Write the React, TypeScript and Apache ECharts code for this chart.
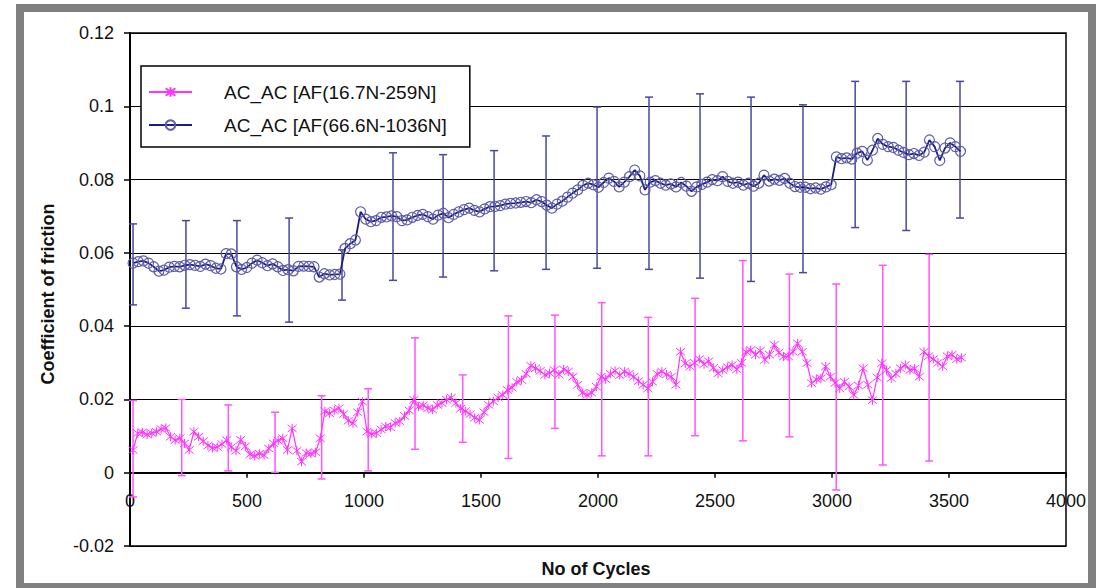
import React, { useEffect, useRef } from 'react';
import * as echarts from 'echarts';

const PINK_NAME = 'AC_AC [AF(16.7N-259N]';
const BLUE_NAME = 'AC_AC [AF(66.6N-1036N]';
const X_TITLE = 'No of Cycles';
const Y_TITLE = 'Coefficient of friction';

// sampling grid of the two runs (cycles)
const PINK_START = 13;
const PINK_STEP = 20;
const BLUE_START = 13;
const BLUE_STEP = 22.1;

// coefficient of friction, 16.7N-259N run
const pinkCof = [
  0.0062, 0.0108, 0.0110, 0.0104, 0.0108, 0.0112, 0.0119, 0.0122, 0.0098, 0.0089,
  0.0094, 0.0080, 0.0062, 0.0112, 0.0098, 0.0086, 0.0074, 0.0068, 0.0070, 0.0078,
  0.0089, 0.0070, 0.0060, 0.0090, 0.0072, 0.0050, 0.0046, 0.0052, 0.0048, 0.0066,
  0.0080, 0.0088, 0.0094, 0.0062, 0.0121, 0.0060, 0.0030, 0.0054, 0.0052, 0.0056,
  0.0094, 0.0168, 0.0162, 0.0170, 0.0176, 0.0160, 0.0142, 0.0135, 0.0165, 0.0194,
  0.0112, 0.0106, 0.0108, 0.0118, 0.0126, 0.0124, 0.0136, 0.0140, 0.0155, 0.0170,
  0.0199, 0.0180, 0.0184, 0.0176, 0.0172, 0.0185, 0.0190, 0.0199, 0.0205, 0.0190,
  0.0175, 0.0168, 0.0160, 0.0150, 0.0144, 0.0165, 0.0185, 0.0195, 0.0205, 0.0212,
  0.0226, 0.0232, 0.0248, 0.0253, 0.0270, 0.0292, 0.0285, 0.0278, 0.0267, 0.0272,
  0.0280, 0.0268, 0.0282, 0.0276, 0.0262, 0.0240, 0.0218, 0.0212, 0.0218, 0.0235,
  0.0262, 0.0255, 0.0270, 0.0278, 0.0266, 0.0276, 0.0270, 0.0262, 0.0250, 0.0240,
  0.0230, 0.0248, 0.0270, 0.0276, 0.0268, 0.0262, 0.0240, 0.0330, 0.0298, 0.0290,
  0.0300, 0.0310, 0.0296, 0.0304, 0.0286, 0.0271, 0.0280, 0.0288, 0.0294, 0.0282,
  0.0300, 0.0330, 0.0335, 0.0322, 0.0333, 0.0308, 0.0322, 0.0349, 0.0328, 0.0317,
  0.0318, 0.0330, 0.0353, 0.0330, 0.0299, 0.0244, 0.0255, 0.0258, 0.0290, 0.0262,
  0.0245, 0.0230, 0.0248, 0.0235, 0.0212, 0.0238, 0.0285, 0.0240, 0.0198, 0.0260,
  0.0299, 0.0280, 0.0258, 0.0270, 0.0285, 0.0294, 0.0280, 0.0284, 0.0262, 0.0330,
  0.0318, 0.0310, 0.0300, 0.0290, 0.0318, 0.0322, 0.0310, 0.0314,
];

// coefficient of friction, 66.6N-1036N run
const blueCof = [
  0.0572, 0.0576, 0.0578, 0.0572, 0.0562, 0.0550, 0.0553, 0.0561, 0.0563, 0.0562,
  0.0566, 0.0568, 0.0566, 0.0563, 0.0569, 0.0565, 0.0558, 0.0556, 0.0598, 0.0597,
  0.0562, 0.0555, 0.0560, 0.0572, 0.0580, 0.0573, 0.0565, 0.0570, 0.0562, 0.0552,
  0.0554, 0.0551, 0.0563, 0.0564, 0.0563, 0.0562, 0.0534, 0.0543, 0.0540, 0.0541,
  0.0542, 0.0612, 0.0625, 0.0635, 0.0712, 0.0692, 0.0685, 0.0688, 0.0697, 0.0698,
  0.0701, 0.0699, 0.0688, 0.0690, 0.0697, 0.0702, 0.0705, 0.0699, 0.0692, 0.0703,
  0.0708, 0.0696, 0.0705, 0.0712, 0.0718, 0.0722, 0.0716, 0.0712, 0.0720, 0.0726,
  0.0727, 0.0729, 0.0733, 0.0735, 0.0736, 0.0738, 0.0740, 0.0737, 0.0745, 0.0740,
  0.0730, 0.0722, 0.0733, 0.0741, 0.0752, 0.0763, 0.0772, 0.0784, 0.0790, 0.0786,
  0.0779, 0.0792, 0.0804, 0.0795, 0.0780, 0.0793, 0.0808, 0.0826, 0.0810, 0.0772,
  0.0793, 0.0797, 0.0790, 0.0785, 0.0788, 0.0780, 0.0792, 0.0782, 0.0768, 0.0780,
  0.0787, 0.0793, 0.0800, 0.0797, 0.0808, 0.0795, 0.0790, 0.0793, 0.0785, 0.0790,
  0.0782, 0.0790, 0.0812, 0.0796, 0.0801, 0.0798, 0.0803, 0.0790, 0.0781, 0.0779,
  0.0779, 0.0775, 0.0777, 0.0774, 0.0780, 0.0786, 0.0862, 0.0857, 0.0859, 0.0856,
  0.0872, 0.0877, 0.0853, 0.0880, 0.0912, 0.0896, 0.0890, 0.0888, 0.0880, 0.0874,
  0.0868, 0.0871, 0.0866, 0.0875, 0.0908, 0.0890, 0.0852, 0.0886, 0.0900, 0.0890,
  0.0877,
];

// error bars (cycle, low, high)
const pinkBarCycles = [13, 221, 420, 620, 819, 1018, 1218, 1422, 1617, 1816, 2016, 2215, 2415, 2619, 2818, 3018, 3217, 3415];
const pinkBarLow = [-0.0066, -0.0008, 0.0005, 0.0001, -0.0017, 0.0005, 0.0064, 0.0083, 0.0039, 0.0121, 0.0046, 0.0046, 0.0101, 0.0087, 0.0098, -0.0047, 0.0021, 0.0032];
const pinkBarHigh = [0.0197, 0.0200, 0.0185, 0.0165, 0.0210, 0.0229, 0.0368, 0.0267, 0.0428, 0.0430, 0.0464, 0.0424, 0.0476, 0.0579, 0.0542, 0.0515, 0.0566, 0.0596];

const blueBarCycles = [13, 239, 457, 680, 906, 1124, 1338, 1556, 1778, 1996, 2218, 2436, 2654, 2876, 3099, 3317, 3547];
const blueBarLow = [0.0458, 0.0449, 0.0428, 0.0411, 0.0471, 0.0525, 0.0534, 0.0551, 0.0555, 0.0558, 0.0555, 0.0531, 0.0522, 0.0546, 0.0669, 0.0661, 0.0695];
const blueBarHigh = [0.0679, 0.0688, 0.0688, 0.0695, 0.0608, 0.0873, 0.0868, 0.0879, 0.0919, 0.0998, 0.1025, 0.1034, 0.1025, 0.1004, 0.1068, 0.1068, 0.1068];

const X_MIN = 0;
const X_MAX = 4000;
const X_INTERVAL = 500;
const Y_MIN = -0.02;
const Y_MAX = 0.12;
const Y_INTERVAL = 0.02;

const FONT = '"Liberation Sans", Arial, sans-serif';
const PINK = '#ff33ff';
const PINK_BAR = '#ff55ff';
const BLUE = '#1c1c84';
const BLUE_MARK = '#5c5ca8';
const BLUE_BAR = '#4848a0';

const GRID_TOP = 33;
const GRID_BOTTOM = 42;
const CHART_H = 588;

const STAR = 'path://M-4,-4L4,4M-4,4L4,-4M0,-5L0,5';

function errorBarSeries(cycles: number[], low: number[], high: number[], color: string) {
  return {
    type: 'custom',
    silent: true,
    z: 1,
    data: cycles.map((c, i) => [c, low[i], high[i]]),
    encode: { x: 0, y: [1, 2] },
    renderItem: (_params: any, api: any) => {
      const x = api.value(0);
      const p1 = api.coord([x, api.value(1)]);
      const p2 = api.coord([x, api.value(2)]);
      const cap = 4;
      const style = { stroke: color, lineWidth: 1.5 };
      return {
        type: 'group',
        children: [
          { type: 'line', shape: { x1: p1[0], y1: p1[1], x2: p2[0], y2: p2[1] }, style },
          { type: 'line', shape: { x1: p1[0] - cap, y1: p1[1], x2: p1[0] + cap, y2: p1[1] }, style },
          { type: 'line', shape: { x1: p2[0] - cap, y1: p2[1], x2: p2[0] + cap, y2: p2[1] }, style },
        ],
      };
    },
  };
}

export default function App() {
  const ref = useRef<HTMLDivElement>(null);
  useEffect(() => {
    if (!ref.current) return;
    const chart = echarts.init(ref.current, undefined, { renderer: 'svg' });
    const pinkData = pinkCof.map((v, i) => [PINK_START + PINK_STEP * i, v]);
    const blueData = blueCof.map((v, i) => [BLUE_START + BLUE_STEP * i, v]);
    // the x axis crosses at y = 0: shift it up from the grid bottom
    const gridH = CHART_H - GRID_TOP - GRID_BOTTOM;
    const zeroOffset = -gridH * (0 - Y_MIN) / (Y_MAX - Y_MIN);
    chart.setOption({
      animation: false,
      backgroundColor: '#fff',
      grid: {
        left: 130, right: 30, top: GRID_TOP, bottom: GRID_BOTTOM,
        show: true, borderColor: '#000', borderWidth: 1.5, backgroundColor: '#fff',
      },
      xAxis: {
        type: 'value', min: X_MIN, max: X_MAX, interval: X_INTERVAL,
        position: 'bottom', offset: zeroOffset,
        axisLine: { onZero: false, lineStyle: { color: '#000', width: 2 } },
        axisTick: { show: true, length: 5, lineStyle: { color: '#000', width: 1.5 } },
        axisLabel: {
          color: '#111', fontFamily: FONT, fontSize: 18, margin: 19,
          formatter: (v: number) => String(v),
        },
        splitLine: { show: false },
      },
      yAxis: {
        type: 'value', min: Y_MIN, max: Y_MAX, interval: Y_INTERVAL,
        axisLine: { show: true, onZero: false, lineStyle: { color: '#000', width: 2 } },
        axisTick: { show: true, length: 6, lineStyle: { color: '#000', width: 1.5 } },
        axisLabel: {
          color: '#111', fontFamily: FONT, fontSize: 18, margin: 16,
          formatter: (v: number) => String(parseFloat(v.toFixed(2))),
        },
        splitLine: { show: true, lineStyle: { color: '#000', width: 1.2 } },
      },
      legend: {
        data: [PINK_NAME, BLUE_NAME],
        orient: 'vertical',
        left: 141, top: 66,
        padding: [16, 23, 12, 7],
        itemGap: 13,
        itemWidth: 43, itemHeight: 12,
        backgroundColor: '#fff',
        borderColor: '#000', borderWidth: 1.5, borderRadius: 0,
        textStyle: { fontFamily: FONT, fontSize: 19, color: '#111', padding: [0, 0, 0, 27], lineHeight: 20 },
      },
      graphic: [
        {
          type: 'rect', silent: true, z: 100,
          shape: { x: 20, y: 8, width: 1072, height: 579 },
          style: { fill: 'none', stroke: '#808080', lineWidth: 8 },
        },
        {
          type: 'text', x: 48, y: 294, rotation: Math.PI / 2,
          style: { text: Y_TITLE, font: `bold 18px ${FONT}`, fill: '#111', align: 'center', verticalAlign: 'middle' },
        },
        {
          type: 'text', x: 596, y: 569,
          style: { text: X_TITLE, font: `bold 18px ${FONT}`, fill: '#111', align: 'center', verticalAlign: 'middle' },
        },
      ],
      series: [
        errorBarSeries(pinkBarCycles, pinkBarLow, pinkBarHigh, PINK_BAR),
        errorBarSeries(blueBarCycles, blueBarLow, blueBarHigh, BLUE_BAR),
        {
          name: PINK_NAME, type: 'line', data: pinkData, z: 3,
          symbol: STAR, symbolSize: 9, showAllSymbol: true,
          lineStyle: { color: PINK, width: 1.2 },
          itemStyle: { color: PINK, borderColor: PINK, borderWidth: 1 },
        },
        {
          name: BLUE_NAME, type: 'line', data: blueData, z: 4,
          symbol: 'circle', symbolSize: 10, showAllSymbol: true,
          lineStyle: { color: BLUE, width: 1.8 },
          itemStyle: { color: 'rgba(255,255,255,0)', borderColor: BLUE_MARK, borderWidth: 1.2 },
        },
      ],
    });
    return () => chart.dispose();
  }, []);
  return <div ref={ref} style={{ position: 'fixed', left: 0, top: 0, width: 1096, height: 588 }} />;
}
